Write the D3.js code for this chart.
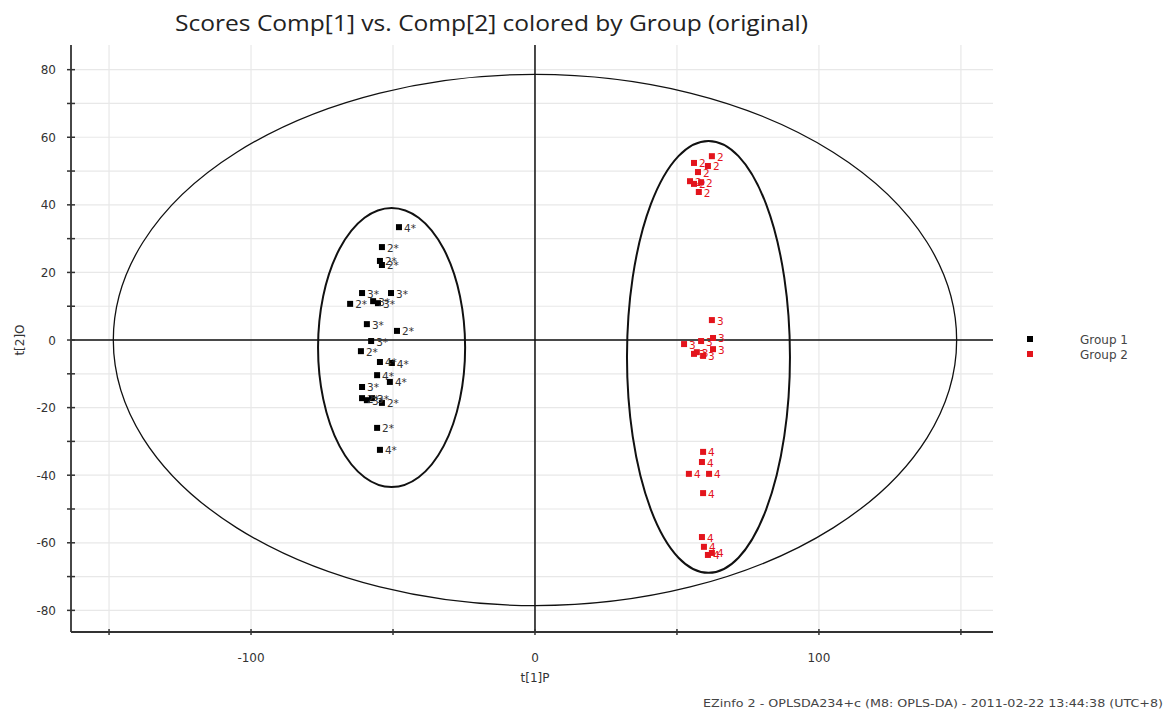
<!DOCTYPE html>
<html>
<head>
<meta charset="utf-8">
<script src="https://cdn.jsdelivr.net/npm/d3@7"></script>
<style>
  html, body { margin: 0; padding: 0; background: #fff; }
  svg { display: block; }
</style>
</head>
<body>
<svg id="chart" width="1168" height="717"></svg>
<script>
// Scores t[1]P vs t[2]O, group 1 (black) and group 2 (red)
const group1X = [-47.9, -53.9, -54.6, -53.9, -60.9, -65.1, -57.0, -55.3, -50.7, -59.2, -48.6, -57.7,
                 -61.3, -54.6, -50.4, -55.6, -51.1, -60.9, -60.9, -57.4, -53.9, -55.6, -54.6, -59.2];
const group1Y = [33.4, 27.5, 23.4, 22.2, 13.9, 10.7, 11.5, 10.9, 13.9, 4.7, 2.7, -0.3,
                 -3.3, -6.5, -6.8, -10.4, -12.4, -13.9, -17.2, -17.2, -18.6, -26.0, -32.5, -17.8];
const group1Labels = ["4*", "2*", "2*", "2*", "3*", "2*", "3*", "3*", "3*", "3*", "2*", "3*",
                      "2*", "4*", "4*", "4*", "4*", "3*", "2*", "3*", "2*", "2*", "4*", "3*"];

const group2X = [62.3, 56.0, 60.9, 57.4, 54.6, 56.0, 58.5, 57.7, 62.3, 52.5, 58.5, 62.7, 56.0,
                 59.2, 62.7, 57.0, 59.2, 58.8, 54.2, 61.3, 59.2, 58.8, 59.5, 60.9, 62.3];
const group2Y = [54.4, 52.4, 51.5, 49.7, 47.0, 46.2, 46.7, 43.8, 5.9, -1.2, -0.3, 0.6, -4.1,
                 -4.7, -2.7, -3.6, -33.1, -36.1, -39.6, -39.6, -45.3, -58.3, -61.2, -63.6, -63.0];
const group2Labels = ["2", "2", "2", "2", "2", "2", "2", "2", "3", "3", "3", "3", "3",
                      "3", "3", "3", "4", "4", "4", "4", "4", "4", "4", "4", "4"];

// Confidence ellipses: [centre x, centre y, radius x, radius y]
const hotellingEllipse = [0, 0, 148.5, 78.6];
const group1Ellipse = [-50.5, -2.2, 25.9, 41.3];
const group2Ellipse = [61.1, -5.0, 28.7, 63.9];

const xTicks = [-150, -100, -50, 0, 50, 100, 150];
const xTickLabels = [-100, 0, 100];
const yTicks = [-80, -70, -60, -50, -40, -30, -20, -10, 0, 10, 20, 30, 40, 50, 60, 70, 80];
const yTickLabels = [-80, -60, -40, -20, 0, 20, 40, 60, 80];

const legendNames = ["Group 1", "Group 2"];
const groupColors = ["#000000", "#e3141c"];
const labelColors = ["#333333", "#e3141c"];

const svg = d3.select("#chart");
const plotLeft = 71, plotRight = 993, plotTop = 45, plotBottom = 632;

const x = d3.scaleLinear().domain([-163.4, 161.3]).range([plotLeft, plotRight]);
const y = d3.scaleLinear().domain([-86.4, 87.3]).range([plotBottom, plotTop]);

// Title
svg.append("text")
  .attr("x", 491.5).attr("y", 31)
  .attr("text-anchor", "middle")
  .attr("font-family", "Open Sans, sans-serif")
  .attr("font-size", 22)
  .attr("textLength", 633).attr("lengthAdjust", "spacingAndGlyphs")
  .attr("fill", "#222")
  .text("Scores Comp[1] vs. Comp[2] colored by Group (original)");

// Grid
const grid = svg.append("g");
grid.selectAll("line.gy").data(yTicks).join("line")
  .attr("x1", plotLeft).attr("x2", plotRight)
  .attr("y1", d => y(d)).attr("y2", d => y(d))
  .attr("stroke", "#e8e8e8").attr("stroke-width", 1.2);
grid.selectAll("line.gx").data(xTicks).join("line")
  .attr("x1", d => x(d)).attr("x2", d => x(d))
  .attr("y1", plotTop).attr("y2", plotBottom)
  .attr("stroke", "#e8e8e8").attr("stroke-width", 1.2);

// Zero lines
svg.append("line")
  .attr("x1", plotLeft).attr("x2", plotRight).attr("y1", y(0)).attr("y2", y(0))
  .attr("stroke", "#111").attr("stroke-width", 1.5);
svg.append("line")
  .attr("x1", x(0)).attr("x2", x(0)).attr("y1", plotTop).attr("y2", plotBottom)
  .attr("stroke", "#111").attr("stroke-width", 1.5);

// Axes
const yAxis = svg.append("g").attr("transform", `translate(${plotLeft},0)`);
yAxis.append("line").attr("x1", 0).attr("x2", 0).attr("y1", plotTop).attr("y2", plotBottom)
  .attr("stroke", "#333").attr("stroke-width", 1.8);
yAxis.selectAll("line.t").data(yTicks).join("line")
  .attr("x1", -4).attr("x2", 4).attr("y1", d => y(d)).attr("y2", d => y(d))
  .attr("stroke", "#333").attr("stroke-width", 1.5);
yAxis.selectAll("text").data(yTickLabels).join("text")
  .attr("x", -15).attr("y", d => y(d) + 4.5)
  .attr("text-anchor", "end")
  .attr("font-family", "DejaVu Sans, sans-serif")
  .attr("font-size", 12).attr("fill", "#333")
  .text(d => d);

const xAxis = svg.append("g").attr("transform", `translate(0,${plotBottom})`);
xAxis.append("line").attr("x1", plotLeft).attr("x2", plotRight).attr("y1", 0).attr("y2", 0)
  .attr("stroke", "#333").attr("stroke-width", 1.8);
xAxis.selectAll("line.t").data(xTicks).join("line")
  .attr("x1", d => x(d)).attr("x2", d => x(d)).attr("y1", -3).attr("y2", 3)
  .attr("stroke", "#333").attr("stroke-width", 1.5);
xAxis.selectAll("text").data(xTickLabels).join("text")
  .attr("x", d => x(d)).attr("y", 30)
  .attr("text-anchor", "middle")
  .attr("font-family", "DejaVu Sans, sans-serif")
  .attr("font-size", 12).attr("fill", "#333")
  .text(d => d);

// Axis titles
svg.append("text")
  .attr("x", x(0)).attr("y", 682)
  .attr("text-anchor", "middle")
  .attr("font-family", "DejaVu Sans, sans-serif")
  .attr("font-size", 12).attr("fill", "#333")
  .text("t[1]P");
svg.append("text")
  .attr("transform", `translate(24,${y(0)}) rotate(-90)`)
  .attr("text-anchor", "middle")
  .attr("font-family", "DejaVu Sans, sans-serif")
  .attr("font-size", 12).attr("fill", "#333")
  .text("t[2]O");

// Ellipses
function drawEllipse(e, width) {
  svg.append("ellipse")
    .attr("cx", x(e[0])).attr("cy", y(e[1]))
    .attr("rx", x(e[0] + e[2]) - x(e[0]))
    .attr("ry", y(e[1]) - y(e[1] + e[3]))
    .attr("fill", "none").attr("stroke", "#111").attr("stroke-width", width);
}
drawEllipse(hotellingEllipse, 1.3);
drawEllipse(group1Ellipse, 2);
drawEllipse(group2Ellipse, 2);

// Points and observation labels
function drawGroup(xs, ys, labels, gi) {
  const pts = xs.map((v, i) => ({ x: v, y: ys[i], label: labels[i] }));
  const g = svg.append("g");
  g.selectAll("rect").data(pts).join("rect")
    .attr("x", d => x(d.x) - 3).attr("y", d => y(d.y) - 3)
    .attr("width", 6).attr("height", 6)
    .attr("fill", groupColors[gi]);
  g.selectAll("text").data(pts).join("text")
    .attr("x", d => x(d.x) + 5).attr("y", d => y(d.y) + 4.5)
    .attr("font-family", "DejaVu Sans, sans-serif")
    .attr("font-size", 10.5).attr("fill", labelColors[gi])
    .text(d => d.label);
}
drawGroup(group1X, group1Y, group1Labels, 0);
drawGroup(group2X, group2Y, group2Labels, 1);

// Legend
const legend = svg.append("g");
legendNames.forEach((name, i) => {
  legend.append("rect")
    .attr("x", 1027).attr("y", 336 + i * 15)
    .attr("width", 6).attr("height", 6)
    .attr("fill", groupColors[i]);
  legend.append("text")
    .attr("x", 1080).attr("y", 344 + i * 15)
    .attr("font-family", "DejaVu Sans, sans-serif")
    .attr("font-size", 12).attr("fill", "#444")
    .text(name);
});

// Footer
svg.append("text")
  .attr("x", 1163).attr("y", 707)
  .attr("text-anchor", "end")
  .attr("font-family", "DejaVu Sans, sans-serif")
  .attr("font-size", 10)
  .attr("textLength", 460).attr("lengthAdjust", "spacingAndGlyphs")
  .attr("fill", "#444")
  .text("EZinfo 2 - OPLSDA234+c (M8: OPLS-DA) - 2011-02-22 13:44:38 (UTC+8)");
</script>
</body>
</html>
